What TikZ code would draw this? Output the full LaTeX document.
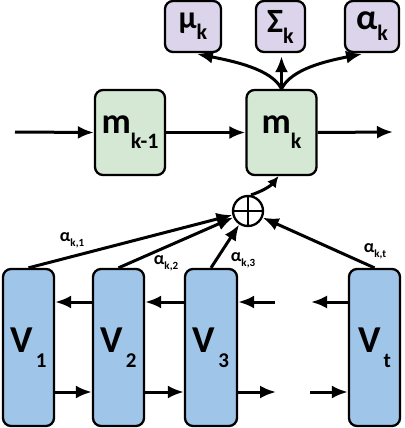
\documentclass[tikz,border=0pt]{standalone}
\usepackage{fontspec}
\setmainfont{Carlito}
\usetikzlibrary{arrows.meta,calc}
\definecolor{mgreen}{HTML}{D5E8D4}
\definecolor{mpurple}{HTML}{DCD4EA}
\definecolor{mblue}{HTML}{9FC5E8}
\begin{document}
\begin{tikzpicture}[x=1pt,y=-1pt,
  box/.style={draw=black, line width=2.3pt, rounded corners=8pt, inner sep=0pt, font=\bfseries},
  topbox/.style={box, fill=mpurple, minimum height=51pt},
  mbox/.style={box, fill=mgreen, minimum width=70pt, minimum height=85pt},
  vbox/.style={box, fill=mblue, minimum width=51pt, minimum height=157pt},
  arr/.style={line width=3pt, -{Latex[length=16pt,width=13pt]}},
  smallarr/.style={line width=3pt, -{Latex[length=11pt,width=11pt]}},
  elab/.style={font=\bfseries, inner sep=0pt}
]
\useasboundingbox (0,0) rectangle (404,428);

% top output boxes
\node[topbox, minimum width=56pt] (mu) at (193,26.5) {{\fontsize{32}{32}\selectfont μ}\raisebox{-11pt}{\fontsize{22}{22}\selectfont k}};
\node[topbox, minimum width=49pt] (sig) at (280.5,26.5) {{\fontsize{34}{34}\selectfont Σ}\raisebox{-11pt}{\fontsize{22}{22}\selectfont k}};
\node[topbox, minimum width=54pt] (al) at (372,26.5) {{\fontsize{36}{36}\selectfont α}\raisebox{-11pt}{\fontsize{22}{22}\selectfont k}};

% memory boxes
\node[mbox] (mkm1) at (130,132.5) {{\fontsize{36}{36}\selectfont m}\raisebox{-15pt}{\fontsize{22}{22}\selectfont k-1}};
\node[mbox] (mk) at (281.5,132.5) {{\fontsize{36}{36}\selectfont m}\raisebox{-15pt}{\fontsize{22}{22}\selectfont k}};

% plus node
\node[draw=black, line width=2.3pt, circle, minimum size=30pt, inner sep=0pt] (plus) at (248,211) {};
\draw[line width=2pt] (plus.north) -- (plus.south) (plus.west) -- (plus.east);

% V boxes
\node[vbox] (V1) at (28.5,347.5) {{\fontsize{38}{38}\selectfont V}\hspace{3pt}\raisebox{-15pt}{\fontsize{21}{21}\selectfont 1}};
\node[vbox] (V2) at (118.5,347.5) {{\fontsize{38}{38}\selectfont V}\hspace{3pt}\raisebox{-15pt}{\fontsize{21}{21}\selectfont 2}};
\node[vbox, minimum width=52pt] (V3) at (211,347.5) {{\fontsize{38}{38}\selectfont V}\hspace{3pt}\raisebox{-15pt}{\fontsize{21}{21}\selectfont 3}};
\node[vbox] (Vt) at (374.5,347.5) {{\fontsize{38}{38}\selectfont V}\hspace{3pt}\raisebox{-15pt}{\fontsize{21}{21}\selectfont t}};

% free-end coordinates
\coordinate (inm) at (15,132);
\coordinate (outm) at (393,132);
\coordinate (bk) at (0,302);
\coordinate (fw) at (0,392);
\coordinate (bkin) at (275,302);
\coordinate (bkout) at (311,302);
\coordinate (fwout) at (276,392);
\coordinate (fwin) at (310,392);

% horizontal memory chain
\draw[arr] (inm) -- (mkm1.west);
\draw[arr] (mkm1.east) -- (mk.west);
\draw[arr] (mk.east) -- (outm);

% outputs
\draw[arr, shorten >=4pt] (mk.north) .. controls +(-10,-20) and +(40,8) .. (mu.south);
\draw[arr, shorten >=3pt] (mk.north) -- (mk.north |- sig.south);
\draw[arr, shorten >=4pt] (mk.north) .. controls +(10,-20) and +(-40,8) .. ($(al.south)+(-6,0)$);

% plus to mk
\draw[smallarr] ($(plus.north)+(3,0)$) .. controls +(10,-3) and +(-8,10) .. ($(mk.south)+(-3,0)$);

% attention arrows
\draw[arr] (V1.north) -- (plus);
\draw[arr] (V2.north) -- (plus);
\draw[arr] (V3.north) -- (plus);
\draw[arr] (Vt.north) -- (plus);

\node[elab] (a1) at (72,240) {{\fontsize{18}{18}\selectfont α}\raisebox{-5pt}{\fontsize{11}{11}\selectfont k,1}};
\node[elab] (a2) at (166,263) {{\fontsize{18}{18}\selectfont α}\raisebox{-5pt}{\fontsize{11}{11}\selectfont k,2}};
\node[elab] (a3) at (243,260) {{\fontsize{18}{18}\selectfont α}\raisebox{-5pt}{\fontsize{11}{11}\selectfont k,3}};
\node[elab] (at) at (375,251) {{\fontsize{18}{18}\selectfont α}\raisebox{-5pt}{\fontsize{11}{11}\selectfont k,t}};

% backward chain
\draw[arr] (V2.west |- bk) -- (V1.east |- bk);
\draw[arr] (V3.west |- bk) -- (V2.east |- bk);
\draw[arr] (bkin) -- (V3.east |- bk);
\draw[arr] (Vt.west |- bk) -- (bkout);

% forward chain
\draw[arr] (V1.east |- fw) -- (V2.west |- fw);
\draw[arr] (V2.east |- fw) -- (V3.west |- fw);
\draw[arr] (V3.east |- fw) -- (fwout);
\draw[arr] (fwin) -- (Vt.west |- fw);
\end{tikzpicture}
\end{document}
